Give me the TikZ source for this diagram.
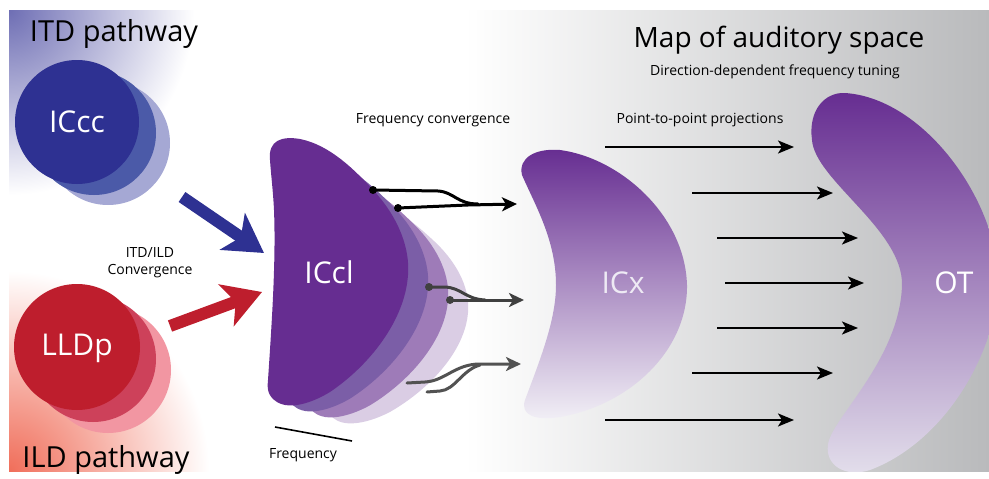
\documentclass[tikz,border=0pt]{standalone}
\usepackage{fontspec}
\setmainfont{Open Sans}
\usetikzlibrary{arrows.meta, positioning, calc}

\definecolor{itdblue}{RGB}{46,49,146}
\definecolor{itdmid}{RGB}{75,90,168}
\definecolor{itdpale}{RGB}{165,168,212}
\definecolor{ildred}{RGB}{190,30,45}
\definecolor{ildmid}{RGB}{205,65,90}
\definecolor{ildpale}{RGB}{242,150,162}
\definecolor{nucpurple}{RGB}{102,45,145}
\definecolor{layera}{RGB}{123,94,167}
\definecolor{layerb}{RGB}{158,123,184}
\definecolor{layerc}{RGB}{218,205,228}
\definecolor{cornerblue}{RGB}{110,110,180}
\definecolor{cornerred}{RGB}{240,110,90}
\definecolor{bggrey}{RGB}{185,186,188}

\tikzset{
  nuclbl/.style={font=\fontsize{30}{36}\selectfont, text=white},
  note/.style={font=\fontsize{14}{17}\selectfont},
  heading/.style={font=\fontsize{29}{35}\selectfont},
  bigarrow/.style={line width=12pt, -{Stealth[length=38pt, width=44pt, inset=10pt]}},
  fork/.style={line width=3pt, line cap=round},
  forkhead/.style={fork, -{Stealth[length=15pt, width=14pt, inset=4pt]}},
  proj/.style={line width=2.2pt, -{Stealth[length=16pt, width=13pt, inset=4pt]}},
  dot/.style={circle, fill, inner sep=0pt, minimum size=8pt},
}

\newcommand{\icclshape}{(270,160) .. controls (268,140) and (282,136) .. (300,139)
  .. controls (330,145) and (355,170) .. (375,192)
  .. controls (400,220) and (410,250) .. (408,275)
  .. controls (405,320) and (370,365) .. (330,392)
  .. controls (312,403) and (290,410) .. (277,402)
  .. controls (268,396) and (267,390) .. (268,380)
  .. controls (272,320) and (276,260) .. (274,210)
  .. controls (273,190) and (271,175) .. (270,160) -- cycle}

\begin{document}
\begin{tikzpicture}[x=1pt, y=-1pt]
    \useasboundingbox (0,0) rectangle (989,479);

    % backgrounds
    \shade[left color=white, right color=bggrey] (465,10) rectangle (989,471);
    \begin{scope}
      \clip (9,10) rectangle (300,240);
      \shade[inner color=cornerblue, outer color=white] (9,10) circle (185);
    \end{scope}
    \begin{scope}
      \clip (9,240) rectangle (300,471);
      \shade[inner color=cornerred, outer color=white] (9,471) circle (200);
    \end{scope}

    % ICcc and LLDp
    \fill[itdpale] (108,143) circle (62);
    \fill[itdmid] (94,133) circle (62);
    \fill[itdblue] (77,122) circle (62);
    \fill[ildpale] (108,370) circle (63);
    \fill[ildmid] (93,359) circle (63);
    \fill[ildred] (77,347) circle (63);

    \coordinate (itd-s) at (182,197);
    \coordinate (itd-e) at (264,253);
    \coordinate (ild-s) at (170,326);
    \coordinate (ild-e) at (262,292);
    \draw[bigarrow, itdblue] (itd-s) -- (itd-e);
    \draw[bigarrow, ildred] (ild-s) -- (ild-e);

    % ICcl layers
    \foreach \k/\col in {3/layerc, 2/layerb, 1/layera}
        \fill[\col, shift={(20*\k, 26.25*\k)}, yscale={1-0.05*\k}] \icclshape;
    \fill[nucpurple] \icclshape;

    % ICx and OT
    \shade[top color=nucpurple, bottom color={rgb,255:red,242;green,240;blue,246}]
      (522,175) .. controls (518,158) and (535,148) .. (560,150)
      .. controls (620,158) and (685,215) .. (687,285)
      .. controls (688,350) and (630,405) .. (560,417)
      .. controls (535,421) and (520,415) .. (525,400)
      .. controls (540,360) and (556,320) .. (556,285)
      .. controls (556,240) and (535,205) .. (522,175) -- cycle;
    \begin{scope}
      \clip (9,10) rectangle (989,471);
      \shade[top color=nucpurple, bottom color={rgb,255:red,228;green,224;blue,236}]
        (812,140) .. controls (808,110) and (825,92) .. (845,93)
        .. controls (920,98) and (990,190) .. (998,270)
        .. controls (1003,340) and (950,440) .. (870,470)
        .. controls (845,478) and (825,465) .. (828,445)
        .. controls (830,420) and (900,360) .. (902,285)
        .. controls (903,230) and (815,180) .. (812,140) -- cycle;
    \end{scope}

    % frequency convergence forks
    \node[dot, black] (fa1) at (373,190) {};
    \node[dot, black] (fa2) at (398,208) {};
    \coordinate (fa-tip) at (517,204);
    \draw[fork, black] (fa1.center) -- (438,191) .. controls (454,192) and (457,204) .. (478,204);
    \draw[forkhead, black] (fa2.center) -- (468,205) -- (fa-tip);

    \node[dot, black!75] (fb1) at (429,287) {};
    \node[dot, black!75] (fb2) at (450,300) {};
    \coordinate (fb-tip) at (524,300);
    \draw[fork, black!75] (fb1.center) -- (445,287) .. controls (462,288) and (465,299) .. (485,300);
    \draw[forkhead, black!75] (fb2.center) -- (fb-tip);

    \coordinate (fc1) at (407,383);
    \coordinate (fc2) at (427,392);
    \coordinate (fc-tip) at (521,364);
    \draw[fork, black!68] (fc2) -- (440,391) .. controls (455,390) and (462,370) .. (480,365);
    \draw[forkhead, black!68] (fc1) -- (425,382) .. controls (445,381) and (455,364) .. (480,364) -- (fc-tip);

    % frequency axis
    \coordinate (fq-a) at (275,427);
    \coordinate (fq-b) at (352,441);
    \draw[line width=1.6pt] (fq-a) -- (fq-b);

    % point-to-point projections
    \foreach \i/\xs/\xe/\y in {1/605/794/147, 2/692/833/193, 3/717/858/238, 4/725/864/283, 5/717/858/328, 6/692/833/373, 7/605/794/420} {
        \coordinate (p\i-s) at (\xs,\y);
        \coordinate (p\i-e) at (\xe,\y);
        \draw[proj] (p\i-s) -- (p\i-e);
    }

    % labels
    \node[nuclbl] (iccc) at (77,122) {ICcc};
    \node[nuclbl] (lldp) at (77,348) {LLDp};
    \node[nuclbl] (iccl) at (329,272) {ICcl};
    \node[nuclbl, text={rgb,255:red,238;green,234;blue,244}] (icx) at (623,283) {ICx};
    \node[nuclbl] (ot) at (954,283) {OT};

    \node[heading] (itd) at (114,34) {ITD pathway};
    \node[heading] (ild) at (106,460) {ILD pathway};
    \node[heading, font=\fontsize{28}{34}\selectfont] (map) at (779,40) {Map of auditory space};
    \node[note] (tuning) at (775,72) {Direction-dependent frequency tuning};
    \node[note, align=center] (conv) at (150,263) {ITD/ILD\\Convergence};
    \node[note] (fconv) at (433,120) {Frequency convergence};
    \node[note] (proj) at (700,120) {Point-to-point projections};
    \node[note] (freq) at (303,455) {Frequency};
\end{tikzpicture}
\end{document}
